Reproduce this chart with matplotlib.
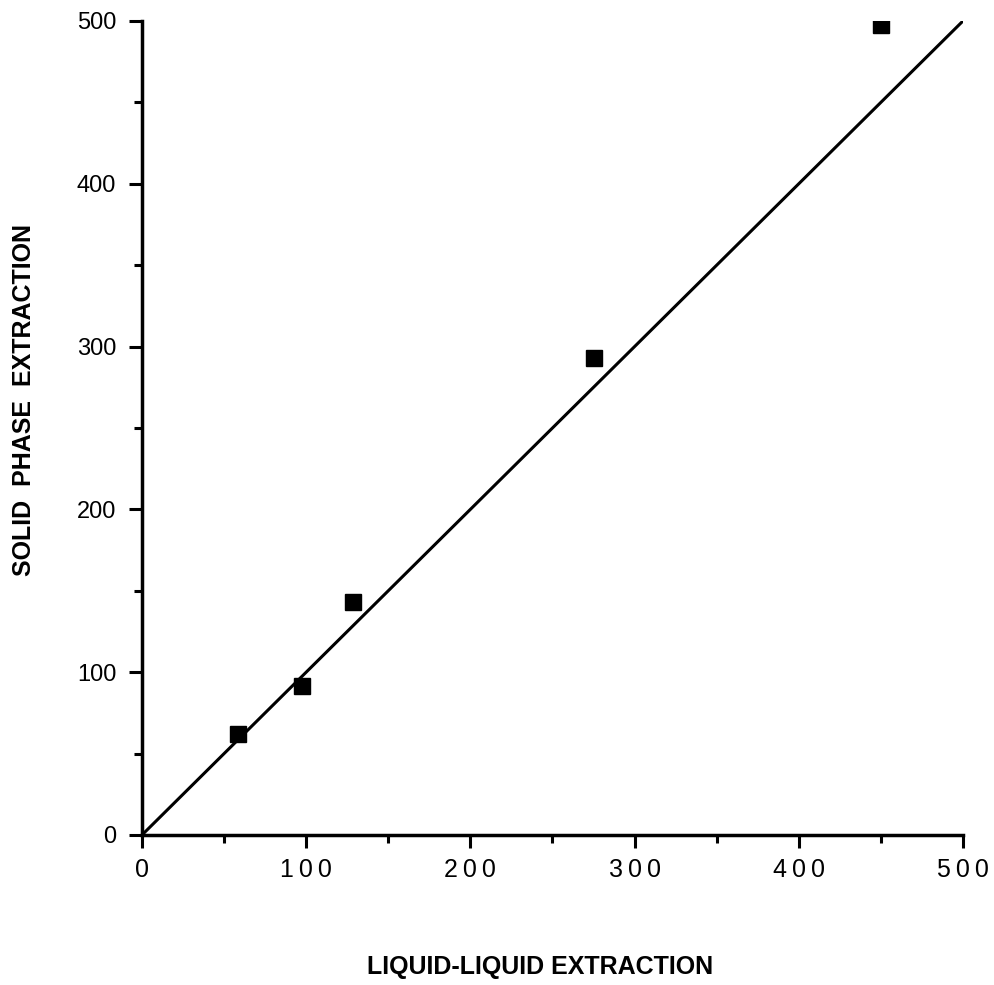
import matplotlib.pyplot as plt
from matplotlib.ticker import MultipleLocator, FuncFormatter

# readings
liquid_liquid = [58.3, 97.6, 128.7, 275.5, 449.9]
solid_phase = [61.9, 91.5, 142.9, 293.2, 497.5]

# fitted line drawn through the origin
fit_slope = 1.0
fit_intercept = 0.0
fit_x = [0, 500]

plt.rcParams['font.family'] = ['Liberation Sans', 'DejaVu Sans']

fig = plt.figure(figsize=(9.95, 9.85), dpi=100)
ax = fig.add_axes([0.1427, 0.1523, 0.8251, 0.8264])

fit_y = [fit_slope * v + fit_intercept for v in fit_x]
ax.plot(fit_x, fit_y, color='black', linewidth=2.2, solid_capstyle='round')
ax.plot(liquid_liquid, solid_phase, 's', color='black', markersize=11)

ax.set_xlim(0, 500)
ax.set_ylim(0, 500)
ax.xaxis.set_major_locator(MultipleLocator(100))
ax.xaxis.set_minor_locator(MultipleLocator(50))
ax.yaxis.set_major_locator(MultipleLocator(100))
ax.yaxis.set_minor_locator(MultipleLocator(50))

# the x labels in the original are letter-spaced
ax.xaxis.set_major_formatter(FuncFormatter(lambda v, p: '\u2009'.join(str(int(v)))))

for side in ['top', 'right']:
    ax.spines[side].set_visible(False)
for side in ['left', 'bottom']:
    ax.spines[side].set_linewidth(2.5)

ax.tick_params(which='major', direction='out', length=9.5, width=2.2)
ax.tick_params(which='minor', direction='out', length=5.5, width=2.2)
ax.tick_params(axis='x', which='major', pad=7, labelsize=18)
ax.tick_params(axis='y', which='major', pad=9, labelsize=17)

ax.set_xlabel('LIQUID-LIQUID EXTRACTION', fontsize=18, fontweight='bold')
ax.set_ylabel('SOLID  PHASE  EXTRACTION', fontsize=18, fontweight='bold')
ax.xaxis.set_label_coords(0.485, -0.162)
ax.xaxis.label.set_verticalalignment('center')
ax.yaxis.set_label_coords(-0.1437, 0.534)
ax.yaxis.label.set_verticalalignment('center')

fig.savefig('out.png', dpi=100)
